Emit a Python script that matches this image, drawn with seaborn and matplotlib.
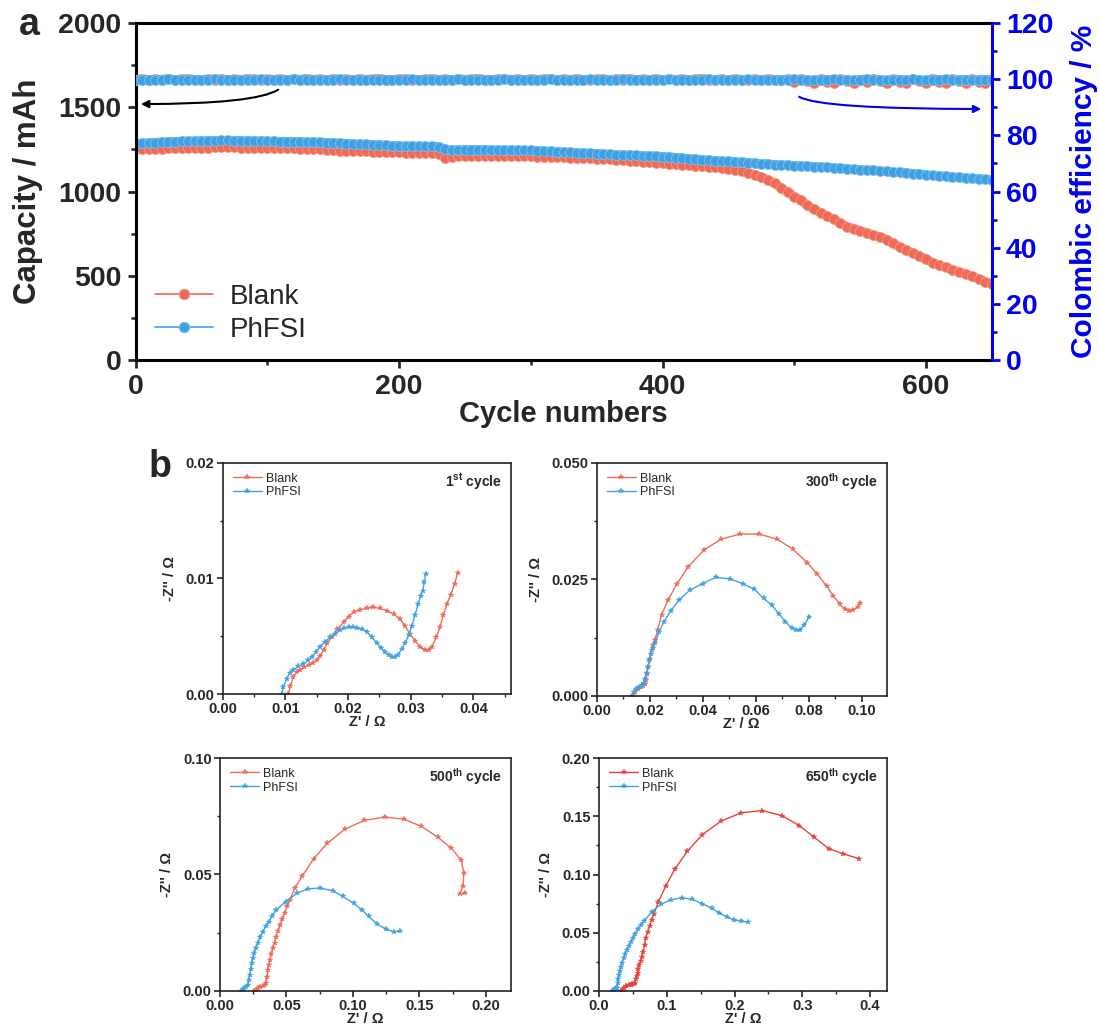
import matplotlib
matplotlib.use("Agg")
import matplotlib.pyplot as plt
from matplotlib.lines import Line2D
from matplotlib.ticker import MultipleLocator, FormatStrFormatter
import seaborn as sns

# ---------------- data: panel a ----------------
cycles = list(range(0, 651, 5))

cap_blank = [1250, 1252, 1253, 1254, 1255, 1256, 1257, 1257, 1258, 1259,
             1260, 1261, 1262, 1263, 1263, 1262, 1261, 1260, 1260, 1259,
             1258, 1257, 1257, 1256, 1256, 1255, 1254, 1253, 1251, 1249,
             1246, 1243, 1241, 1240, 1239, 1238, 1237, 1236, 1235, 1234,
             1232, 1231, 1230, 1228, 1227, 1226, 1224, 1200, 1206, 1210,
             1212, 1213, 1213, 1212, 1212, 1211, 1211, 1210, 1210, 1209,
             1209, 1208, 1208, 1207, 1205, 1204, 1202, 1200, 1199, 1197,
             1195, 1193, 1191, 1189, 1187, 1184, 1181, 1178, 1175, 1172,
             1169, 1166, 1163, 1160, 1157, 1154, 1151, 1148, 1144, 1140,
             1135, 1130, 1122, 1112, 1100, 1086, 1068, 1048, 1022, 995,
             970, 948, 918, 895, 873, 855, 835, 812, 792, 780,
             767, 755, 742, 731, 715, 692, 670, 652, 634, 617,
             598, 578, 562, 550, 536, 523, 510, 496, 481, 466,
             452]

cap_phfsi = [1283, 1286, 1289, 1291, 1293, 1295, 1297, 1298, 1299, 1300,
             1301, 1302, 1302, 1303, 1303, 1302, 1302, 1301, 1300, 1300,
             1299, 1298, 1297, 1297, 1296, 1295, 1294, 1293, 1292, 1291,
             1289, 1287, 1285, 1283, 1281, 1280, 1279, 1277, 1275, 1273,
             1271, 1270, 1270, 1269, 1268, 1268, 1267, 1250, 1246, 1247,
             1248, 1248, 1248, 1247, 1247, 1246, 1246, 1245, 1245, 1244,
             1244, 1243, 1241, 1238, 1236, 1234, 1232, 1230, 1228, 1227,
             1225, 1223, 1221, 1219, 1218, 1216, 1214, 1213, 1211, 1210,
             1208, 1205, 1202, 1199, 1195, 1192, 1189, 1186, 1183, 1181,
             1179, 1177, 1175, 1172, 1169, 1166, 1163, 1160, 1158, 1156,
             1154, 1152, 1150, 1148, 1146, 1144, 1141, 1138, 1135, 1132,
             1130, 1128, 1126, 1123, 1119, 1116, 1114, 1111, 1107, 1103,
             1099, 1096, 1093, 1090, 1087, 1084, 1081, 1078, 1075, 1072,
             1069]

ce_blank = [99.9, 100.1, 99.8, 100.0, 99.9, 100.2, 99.8, 100.0, 100.1, 99.9,
            99.8, 100.0, 99.9, 100.1, 99.8, 100.0, 99.9, 100.1, 100.0, 99.8,
            100.0, 99.9, 100.1, 99.8, 100.0, 99.9, 100.2, 99.9, 100.0, 99.8,
            100.1, 99.9, 100.0, 99.8, 100.1, 99.9, 100.0, 100.2, 99.9, 99.8,
            100.0, 100.1, 99.9, 99.8, 100.0, 100.1, 99.9, 100.0, 99.8, 100.1,
            99.9, 100.0, 100.2, 99.9, 99.8, 100.0, 100.1, 99.9, 100.0, 99.8,
            100.1, 99.9, 100.0, 100.2, 99.8, 100.0, 99.9, 100.1, 99.9, 99.8,
            100.0, 100.1, 99.7, 100.0, 99.9, 100.2, 99.8, 100.0, 99.9, 100.1,
            99.8, 100.0, 99.9, 100.1, 99.7, 100.0, 100.2, 99.8, 99.9, 100.0,
            99.7, 100.1, 99.9, 99.8, 100.0, 99.6, 100.1, 99.9, 99.7, 100.0,
            98.9, 100.2, 99.3, 98.7, 100.0, 99.1, 98.8, 100.1, 99.4, 98.7,
            99.9, 98.9, 100.2, 99.2, 98.6, 100.0, 99.0, 98.8, 100.1, 99.3,
            98.7, 100.2, 99.0, 98.6, 100.1, 99.2, 98.8, 100.0, 99.1, 98.7,
            100.0]

ce_phfsi = [99.8, 99.9, 99.7, 99.9, 99.8, 100.0, 99.8, 99.9, 99.7, 99.9,
            99.8, 99.9, 100.0, 99.8, 99.7, 99.9, 99.8, 99.9, 99.8, 100.0,
            99.8, 99.7, 99.9, 99.8, 100.0, 99.9, 99.8, 99.7, 99.9, 99.8,
            99.9, 100.0, 99.8, 99.7, 99.9, 99.8, 99.9, 99.8, 99.7, 99.9,
            99.8, 99.9, 100.0, 99.8, 99.7, 99.9, 99.8, 99.9, 99.8, 100.0,
            99.7, 99.9, 99.8, 99.9, 99.8, 99.7, 100.0, 99.8, 99.9, 99.8,
            99.9, 99.7, 99.8, 100.0, 99.9, 99.8, 99.7, 99.9, 99.8, 100.0,
            99.8, 99.9, 99.7, 99.8, 100.1, 99.8, 99.9, 99.7, 99.8, 99.9,
            99.8, 100.0, 99.7, 99.9, 99.8, 99.9, 99.7, 100.1, 99.8, 99.9,
            99.6, 99.9, 99.8, 100.0, 99.7, 99.9, 99.8, 99.6, 99.9, 99.8,
            100.1, 99.7, 99.8, 99.6, 99.9, 99.8, 100.0, 99.7, 99.9, 99.6,
            99.8, 100.1, 99.7, 99.9, 99.6, 99.8, 99.9, 99.7, 100.0, 99.8,
            99.6, 99.9, 99.8, 100.0, 99.7, 99.8, 99.9, 99.6, 99.8, 99.9,
            99.7]

# ---------------- data: panel b (EIS) ----------------
c1_blank_x = [0.0105, 0.0108, 0.0113, 0.0118, 0.0123, 0.0130, 0.0137, 0.0144, 0.0150, 0.0156,
              0.0161, 0.0167, 0.0174, 0.0183, 0.0193, 0.0201, 0.0209, 0.0219, 0.0230, 0.0240,
              0.0251, 0.0262, 0.0273, 0.0283, 0.0291, 0.0299, 0.0307, 0.0315, 0.0323, 0.0329,
              0.0334, 0.0341, 0.0347, 0.0352, 0.0358, 0.0364, 0.0370, 0.0375]
c1_blank_y = [0.0000, 0.0007, 0.0015, 0.0019, 0.0021, 0.0023, 0.0025, 0.0027, 0.0029, 0.0033,
              0.0038, 0.0044, 0.0049, 0.0056, 0.0062, 0.0067, 0.0071, 0.0073, 0.0074, 0.0075,
              0.0074, 0.0072, 0.0069, 0.0065, 0.0059, 0.0052, 0.0046, 0.0041, 0.0038, 0.0038,
              0.0041, 0.0049, 0.0058, 0.0068, 0.0078, 0.0086, 0.0095, 0.0105]
c1_ph_x = [0.0094, 0.0097, 0.0102, 0.0107, 0.0113, 0.0121, 0.0129, 0.0136, 0.0142, 0.0149,
           0.0155, 0.0163, 0.0171, 0.0179, 0.0187, 0.0194, 0.0201, 0.0208, 0.0214, 0.0222,
           0.0230, 0.0238, 0.0246, 0.0253, 0.0259, 0.0265, 0.0270, 0.0275, 0.0280, 0.0286,
           0.0291, 0.0297, 0.0302, 0.0307, 0.0312, 0.0316, 0.0319, 0.0322, 0.0324]
c1_ph_y = [0.0000, 0.0006, 0.0013, 0.0018, 0.0021, 0.0024, 0.0026, 0.0029, 0.0032, 0.0036,
           0.0041, 0.0045, 0.0049, 0.0052, 0.0055, 0.0057, 0.0058, 0.0058, 0.0057, 0.0056,
           0.0054, 0.0049, 0.0044, 0.0040, 0.0036, 0.0034, 0.0032, 0.0032, 0.0034, 0.0039,
           0.0044, 0.0051, 0.0059, 0.0068, 0.0078, 0.0085, 0.0089, 0.0097, 0.0104]

c300_blank_x = [0.0136, 0.0145, 0.0157, 0.0168, 0.0176, 0.0182, 0.0186, 0.0190, 0.0195, 0.0201,
                0.0208, 0.0214, 0.0220, 0.0230, 0.0245, 0.0270, 0.0304, 0.0346, 0.0405, 0.0470,
                0.0541, 0.0614, 0.0682, 0.0742, 0.0795, 0.0833, 0.0868, 0.0893, 0.0918, 0.0937,
                0.0953, 0.0969, 0.0985, 0.0996]
c300_blank_y = [0.0000, 0.0008, 0.0016, 0.0019, 0.0021, 0.0026, 0.0034, 0.0047, 0.0063, 0.0080,
                0.0099, 0.0110, 0.0120, 0.0141, 0.0174, 0.0206, 0.0241, 0.0277, 0.0313, 0.0336,
                0.0347, 0.0347, 0.0336, 0.0314, 0.0286, 0.0261, 0.0236, 0.0215, 0.0197, 0.0186,
                0.0183, 0.0184, 0.0191, 0.0199]
c300_ph_x = [0.0132, 0.0140, 0.0148, 0.0156, 0.0164, 0.0172, 0.0179, 0.0184, 0.0189, 0.0194,
             0.0199, 0.0205, 0.0211, 0.0220, 0.0236, 0.0254, 0.0279, 0.0312, 0.0352, 0.0400,
             0.0449, 0.0503, 0.0551, 0.0595, 0.0631, 0.0663, 0.0688, 0.0713, 0.0736, 0.0751,
             0.0767, 0.0784, 0.0803]
c300_ph_y = [0.0000, 0.0009, 0.0016, 0.0018, 0.0020, 0.0023, 0.0027, 0.0037, 0.0049, 0.0063,
             0.0077, 0.0090, 0.0102, 0.0113, 0.0138, 0.0159, 0.0182, 0.0206, 0.0227, 0.0241,
             0.0254, 0.0251, 0.0241, 0.0229, 0.0209, 0.0194, 0.0176, 0.0159, 0.0146, 0.0141,
             0.0141, 0.0152, 0.0170]

c500_blank_x = [0.0258, 0.0270, 0.0284, 0.0300, 0.0322, 0.0335, 0.0347, 0.0354, 0.0360, 0.0368,
                0.0377, 0.0387, 0.0397, 0.0410, 0.0423, 0.0438, 0.0453, 0.0470, 0.0486, 0.0505,
                0.0524, 0.0562, 0.0620, 0.0706, 0.0808, 0.0939, 0.1086, 0.1238, 0.1385, 0.1516,
                0.1638, 0.1739, 0.1815, 0.1835, 0.1830, 0.1805, 0.1846]
c500_blank_y = [0.0000, 0.0005, 0.0010, 0.0015, 0.0020, 0.0026, 0.0032, 0.0060, 0.0089, 0.0110,
                0.0132, 0.0157, 0.0182, 0.0207, 0.0232, 0.0258, 0.0283, 0.0308, 0.0333, 0.0362,
                0.0390, 0.0440, 0.0494, 0.0568, 0.0634, 0.0694, 0.0732, 0.0746, 0.0737, 0.0706,
                0.0660, 0.0613, 0.0562, 0.0505, 0.0451, 0.0416, 0.0419]
c500_ph_x = [0.0157, 0.0170, 0.0182, 0.0195, 0.0208, 0.0217, 0.0225, 0.0232, 0.0240, 0.0249,
             0.0258, 0.0270, 0.0284, 0.0302, 0.0322, 0.0344, 0.0367, 0.0394, 0.0423, 0.0494,
             0.0580, 0.0663, 0.0752, 0.0848, 0.0924, 0.1005, 0.1068, 0.1119, 0.1182, 0.1251,
             0.1309, 0.1354]
c500_ph_y = [0.0000, 0.0005, 0.0010, 0.0017, 0.0024, 0.0045, 0.0067, 0.0092, 0.0118, 0.0140,
             0.0161, 0.0183, 0.0204, 0.0229, 0.0254, 0.0276, 0.0297, 0.0322, 0.0347, 0.0383,
             0.0419, 0.0438, 0.0441, 0.0430, 0.0405, 0.0376, 0.0347, 0.0319, 0.0286, 0.0264,
             0.0253, 0.0257]

c650_blank_x = [0.0330, 0.0350, 0.0369, 0.0405, 0.0443, 0.0470, 0.0493, 0.0515, 0.0532, 0.0545,
                0.0557, 0.0569, 0.0581, 0.0598, 0.0616, 0.0635, 0.0655, 0.0672, 0.0690, 0.0720,
                0.0749, 0.0778, 0.0808, 0.0877, 0.0985, 0.1123, 0.1305, 0.1527, 0.1798, 0.2094,
                0.2404, 0.2700, 0.2956, 0.3177, 0.3389, 0.3606, 0.3833]
c650_blank_y = [0.0000, 0.0015, 0.0029, 0.0040, 0.0049, 0.0053, 0.0057, 0.0062, 0.0071, 0.0100,
                0.0129, 0.0157, 0.0186, 0.0221, 0.0257, 0.0295, 0.0334, 0.0395, 0.0457, 0.0507,
                0.0557, 0.0607, 0.0657, 0.0766, 0.0900, 0.1049, 0.1200, 0.1343, 0.1457, 0.1529,
                0.1549, 0.1506, 0.1420, 0.1320, 0.1223, 0.1177, 0.1137]
c650_ph_x = [0.0197, 0.0215, 0.0236, 0.0255, 0.0271, 0.0279, 0.0286, 0.0298, 0.0310, 0.0327,
             0.0345, 0.0364, 0.0384, 0.0413, 0.0443, 0.0472, 0.0502, 0.0539, 0.0576, 0.0620,
             0.0665, 0.0778, 0.0911, 0.1059, 0.1222, 0.1379, 0.1527, 0.1665, 0.1773, 0.1882,
             0.1995, 0.2094, 0.2192]
c650_ph_y = [0.0000, 0.0010, 0.0020, 0.0025, 0.0029, 0.0065, 0.0100, 0.0136, 0.0171, 0.0207,
             0.0243, 0.0279, 0.0314, 0.0350, 0.0386, 0.0419, 0.0451, 0.0490, 0.0529, 0.0565,
             0.0600, 0.0680, 0.0743, 0.0783, 0.0800, 0.0786, 0.0749, 0.0709, 0.0671, 0.0637,
             0.0611, 0.0600, 0.0591]

series_labels = ["Blank", "PhFSI"]

# ---------------- style ----------------
sns.set_style("ticks")
plt.rcParams['font.family'] = ['Liberation Sans', 'DejaVu Sans']
plt.rcParams['font.weight'] = 'bold'
plt.rcParams['axes.labelweight'] = 'bold'
plt.rcParams['mathtext.fontset'] = 'custom'
plt.rcParams['mathtext.rm'] = 'Liberation Sans'
plt.rcParams['mathtext.bf'] = 'Liberation Sans:bold'
plt.rcParams['axes.unicode_minus'] = False

RED = "#EE6B58"
RED_E = "#F59886"
BLUE = "#3FA1E4"
BLUE_E = "#7EC2EE"
AXBLUE = "#0000EE"

fig = plt.figure(figsize=(10.99, 10.34), dpi=100)

# ---------------- panel a ----------------
ax = fig.add_axes([0.1233, 0.6518, 0.7793, 0.3259])
ax2 = ax.twinx()

mk = dict(marker='o', markersize=7.2, markeredgewidth=0.6, lw=6.5)
sns.lineplot(x=cycles, y=cap_blank, ax=ax, color=RED, markeredgecolor=RED_E,
             legend=False, **mk)
sns.lineplot(x=cycles, y=cap_phfsi, ax=ax, color=BLUE, markeredgecolor=BLUE_E,
             legend=False, **mk)
sns.lineplot(x=cycles, y=ce_blank, ax=ax2, color=RED, markeredgecolor=RED_E,
             legend=False, **mk)
sns.lineplot(x=cycles, y=ce_phfsi, ax=ax2, color=BLUE, markeredgecolor=BLUE_E,
             legend=False, **mk)

ax.set_xlim(0, 650)
ax.set_ylim(0, 2000)
ax2.set_ylim(0, 120)
ax.xaxis.set_major_locator(MultipleLocator(200))
ax.xaxis.set_minor_locator(MultipleLocator(100))
ax.yaxis.set_major_locator(MultipleLocator(500))
ax.yaxis.set_minor_locator(MultipleLocator(250))
ax2.yaxis.set_major_locator(MultipleLocator(20))
ax2.yaxis.set_minor_locator(MultipleLocator(10))

for s in ['left', 'bottom', 'top']:
    ax.spines[s].set_linewidth(2.2)
    ax.spines[s].set_color('black')
ax.spines['right'].set_visible(False)
for s in ['left', 'bottom', 'top']:
    ax2.spines[s].set_visible(False)
ax2.spines['right'].set_color(AXBLUE)
ax2.spines['right'].set_linewidth(2.2)

ax.tick_params(axis='both', which='major', direction='out', length=6, width=2,
               labelsize=20.5, top=False, right=False, pad=4)
ax.tick_params(axis='both', which='minor', direction='out', length=3.5, width=1.8,
               top=False, right=False)
ax2.tick_params(axis='y', which='major', direction='out', length=6, width=2,
                labelsize=20.5, colors=AXBLUE, pad=4)
ax2.tick_params(axis='y', which='minor', direction='out', length=3.5, width=1.8,
                colors=AXBLUE)

ax.set_xlabel("Cycle numbers", fontsize=21, fontweight='bold', labelpad=0)
ax.set_ylabel("Capacity / mAh", fontsize=22.5, fontweight='bold', labelpad=11)
ax2.set_ylabel("Colombic efficiency / %", fontsize=21.5, fontweight='bold',
               color=AXBLUE, labelpad=12)

handles = [Line2D([], [], color=RED, lw=1.2, marker='o', markersize=7.5,
                  markeredgecolor=RED_E, markeredgewidth=0.8),
           Line2D([], [], color=BLUE, lw=1.2, marker='o', markersize=7.5,
                  markeredgecolor=BLUE_E, markeredgewidth=0.8)]
ax.legend(handles, series_labels, loc='lower left', bbox_to_anchor=(0.0, -0.006),
          frameon=False, prop={'weight': 'normal', 'size': 20}, handlelength=2.1,
          handletextpad=0.6, labelspacing=0.25, borderaxespad=0.3)

ax.annotate("", xy=(2, 1519), xytext=(110, 1614),
            arrowprops=dict(arrowstyle='-|>', color='black', lw=1.5,
                            mutation_scale=11,
                            connectionstyle="angle3,angleA=40,angleB=0"))
ax2.annotate("", xy=(644, 89.4), xytext=(502, 94.4),
             arrowprops=dict(arrowstyle='-|>', color=AXBLUE, lw=1.5,
                             mutation_scale=11,
                             connectionstyle="angle3,angleA=-52,angleB=0"))

fig.text(0.027, 0.976, "a", fontsize=27, fontweight='bold', ha='center', va='center')
fig.text(0.1456, 0.548, "b", fontsize=27, fontweight='bold', ha='center', va='center')

# ---------------- panel b ----------------
def eis(rect, bx, by, px, py, xlim, ylim, xmaj, xmin, ymaj, ymin, xfmt, yfmt,
        title, cblank):
    a = fig.add_axes(rect)
    emk = dict(marker='*', markersize=4, markeredgewidth=0.3, lw=1.0)
    sns.lineplot(x=bx, y=by, ax=a, sort=False, estimator=None, color=cblank,
                 markeredgecolor=cblank, label=series_labels[0], **emk)
    sns.lineplot(x=px, y=py, ax=a, sort=False, estimator=None, color=BLUE,
                 markeredgecolor=BLUE, label=series_labels[1], **emk)
    a.set_xlim(*xlim)
    a.set_ylim(*ylim)
    a.xaxis.set_major_locator(MultipleLocator(xmaj))
    a.xaxis.set_minor_locator(MultipleLocator(xmin))
    a.yaxis.set_major_locator(MultipleLocator(ymaj))
    a.yaxis.set_minor_locator(MultipleLocator(ymin))
    a.xaxis.set_major_formatter(FormatStrFormatter(xfmt))
    a.yaxis.set_major_formatter(FormatStrFormatter(yfmt))
    for s in a.spines.values():
        s.set_linewidth(1.2)
        s.set_color('#222222')
    a.tick_params(axis='both', which='major', direction='out', length=4, width=1.2,
                  labelsize=10.5, top=False, right=False, pad=2)
    a.tick_params(axis='both', which='minor', direction='out', length=2.2, width=1.0,
                  top=False, right=False)
    a.set_xlabel("Z' / Ω", fontsize=10.5, fontweight='bold', labelpad=-1)
    a.set_ylabel("-Z'' / Ω", fontsize=10.5, fontweight='bold', labelpad=6)
    a.legend(loc='upper left', frameon=False, prop={'weight': 'normal', 'size': 9},
             handlelength=2.3, handletextpad=0.3, labelspacing=0.15,
             borderaxespad=0.2, bbox_to_anchor=(0.01, 0.99))
    a.text(0.97, 0.92, title, transform=a.transAxes, ha='right', va='center',
           fontsize=10, fontweight='bold')
    return a

eis([0.2026, 0.3288, 0.2623, 0.2237], c1_blank_x, c1_blank_y, c1_ph_x, c1_ph_y,
    (0, 0.046), (0, 0.02), 0.01, 0.005, 0.01, 0.005, '%.2f', '%.2f',
    r"1$^{\mathbf{st}}$ cycle", RED)
eis([0.5429, 0.3269, 0.2639, 0.2256], c300_blank_x, c300_blank_y, c300_ph_x, c300_ph_y,
    (0, 0.1095), (0, 0.05), 0.02, 0.01, 0.025, 0.0125, '%.2f', '%.3f',
    r"300$^{\mathbf{th}}$ cycle", RED)
eis([0.2002, 0.0419, 0.2648, 0.2250], c500_blank_x, c500_blank_y, c500_ph_x, c500_ph_y,
    (0, 0.219), (0, 0.10), 0.05, 0.025, 0.05, 0.025, '%.2f', '%.2f',
    r"500$^{\mathbf{th}}$ cycle", RED)
eis([0.5450, 0.0416, 0.2621, 0.2253], c650_blank_x, c650_blank_y, c650_ph_x, c650_ph_y,
    (0, 0.425), (0, 0.20), 0.1, 0.05, 0.05, 0.025, '%.1f', '%.2f',
    r"650$^{\mathbf{th}}$ cycle", "#E8423A")

fig.savefig("out.png", dpi=100)
